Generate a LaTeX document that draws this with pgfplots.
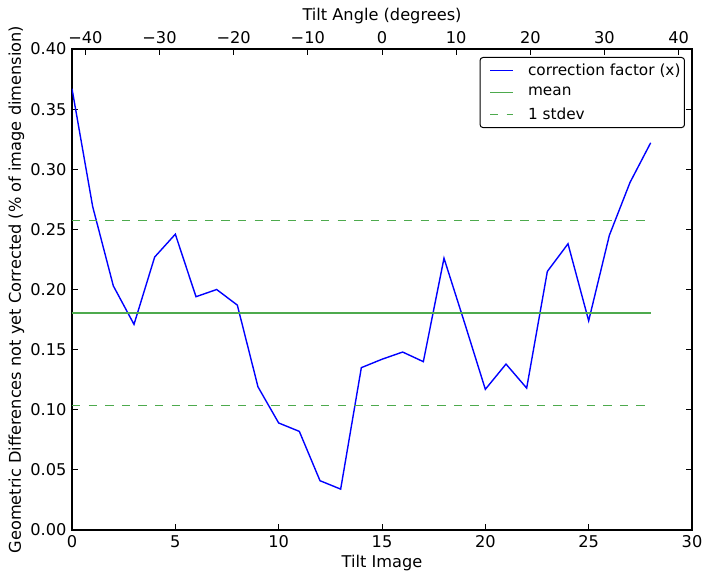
\documentclass[border=0pt]{standalone}
\usepackage{fontspec}
\setmainfont{DejaVu Sans}
\usepackage{pgfplots}
\pgfplotsset{compat=1.18}
\definecolor{mgreen}{RGB}{77,170,77}
\definecolor{mblue}{RGB}{0,0,255}
\pgfplotstableread{
x y
0 0.367
1 0.269
2 0.203
3 0.171
4 0.227
5 0.246
6 0.194
7 0.200
8 0.187
9 0.119
10 0.089
11 0.082
12 0.041
13 0.034
14 0.135
15 0.142
16 0.148
17 0.140
18 0.226
19 0.172
20 0.117
21 0.138
22 0.118
23 0.215
24 0.238
25 0.174
26 0.245
27 0.289
28 0.322
}\cfdata
\begin{document}
\fontsize{16.2}{19.4}\selectfont
\begin{tikzpicture}
\useasboundingbox (-72pt,-49pt) rectangle (639pt,530pt);
\begin{axis}[
  at={(0pt,0pt)}, anchor=south west,
  scale only axis, width=620pt, height=481pt,
  xmin=0, xmax=30, ymin=0, ymax=0.40,
  xtick={0,5,10,15,20,25,30},
  ytick={0,0.05,0.10,0.15,0.20,0.25,0.30,0.35,0.40},
  yticklabel style={/pgf/number format/.cd, fixed, fixed zerofill, precision=2},
  /pgf/number format/assume math mode=true,
  xtick pos=left, ytick pos=both,
  tick align=inside,
  major tick length=5.6pt,
  tick style={black, line width=1pt},
  axis line style={line width=1.2pt},
  ticklabel style={font=\fontsize{16.2}{19.4}\selectfont},
  label style={font=\fontsize{16.2}{19.4}\selectfont},
  xlabel={Tilt Image},
  ylabel={Geometric Differences not yet Corrected (\% of image dimension)},
  xlabel shift=-4pt,
  ylabel shift=-5pt,
  legend cell align=left,
  legend style={at={(0.9887,0.9834)}, anchor=north east, draw=black, line width=1pt,
    rounded corners=3pt, font=\fontsize{15.3}{18}\selectfont, inner xsep=2pt, inner ysep=4pt,
    row sep=5.5pt},
  legend image code/.code={\path[draw=none] (0pt,0pt) -- (44pt,0pt); \draw[#1] (8pt,0pt) -- (31pt,0pt);},
]
\addplot[mblue, line width=1.4pt] table {\cfdata};
\addlegendentry{correction factor (x)}
\addplot[mgreen, line width=1.4pt] coordinates {(0,0.1803) (28,0.1803)};
\addlegendentry{mean}
\addplot[mgreen, line width=1.5pt, dash pattern=on 8.3pt off 8.3pt] coordinates {(0,0.2575) (28,0.2575)};
\addlegendentry{1 stdev}
\addplot[mgreen, line width=1.5pt, dash pattern=on 8.3pt off 8.3pt, forget plot] coordinates {(0,0.1037) (28,0.1037)};
\end{axis}
\begin{axis}[
  at={(0pt,0pt)}, anchor=south west,
  scale only axis, width=620pt, height=481pt,
  xmin=-41.8, xmax=41.8, ymin=0, ymax=1,
  axis x line*=top, axis y line=none,
  xtick={-40,-30,-20,-10,0,10,20,30,40},
  xticklabels={−40,−30,−20,−10,0,10,20,30,40},
  tick align=inside,
  major tick length=5.6pt,
  tick style={black, line width=1pt},
  axis line style={line width=1.2pt},
  ticklabel style={font=\fontsize{16.2}{19.4}\selectfont},
  label style={font=\fontsize{16.2}{19.4}\selectfont},
  xlabel={Tilt Angle (degrees)},
  xlabel shift=-4pt,
]
\addplot[draw=none] coordinates {(0,0.5)};
\end{axis}
\end{tikzpicture}
\end{document}
